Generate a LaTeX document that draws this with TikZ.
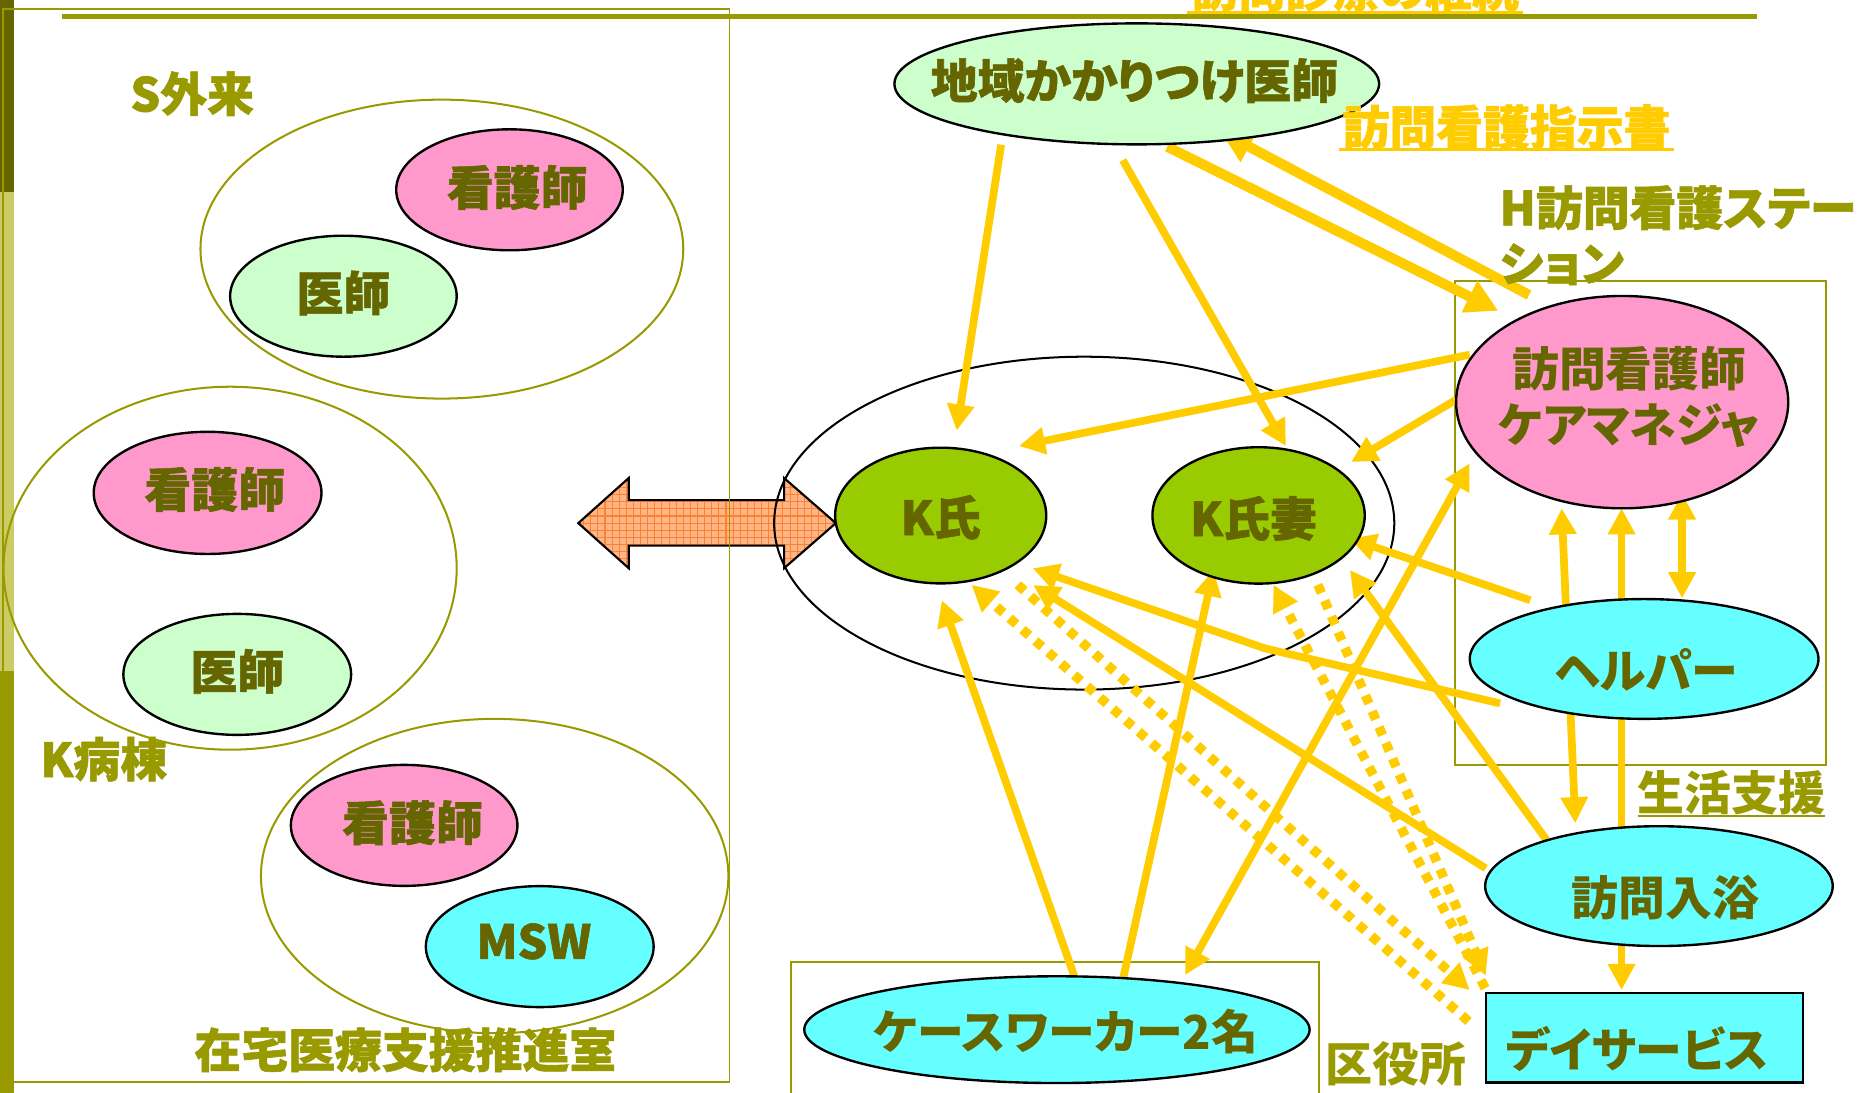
\documentclass[tikz,border=0pt]{standalone}
\usepackage{fontspec}
\setmainfont{Noto Sans CJK JP}[RawFeature=+palt]
\newfontfamily\jpx{Noto Sans CJK JP}[RawFeature=+palt,BoldFeatures={FakeBold=1.2}]
\usetikzlibrary{shapes.geometric,arrows.meta,patterns}
\pgfdeclarelayer{bg}
\pgfsetlayers{bg,main}
\definecolor{cLab}{HTML}{999900}
\definecolor{cNode}{HTML}{666600}
\definecolor{cYel}{HTML}{FFCC00}
\definecolor{cPink}{HTML}{FF99CC}
\definecolor{cLGreen}{HTML}{CCFFCC}
\definecolor{cCyan}{HTML}{66FFFF}
\definecolor{cKGreen}{HTML}{99CC00}
\definecolor{cDark}{HTML}{666600}
\definecolor{cLight}{HTML}{CCCC66}
\definecolor{cOrFill}{HTML}{FFB585}
\definecolor{cOrGrid}{HTML}{FF8030}
\pgfdeclarepatternformonly{ogrid}{\pgfqpoint{-1pt}{-1pt}}{\pgfqpoint{7pt}{7pt}}{\pgfqpoint{6pt}{6pt}}{%
  \pgfsetlinewidth{0.9pt}%
  \pgfpathmoveto{\pgfqpoint{0pt}{0pt}}\pgfpathlineto{\pgfqpoint{6pt}{0pt}}%
  \pgfpathmoveto{\pgfqpoint{0pt}{0pt}}\pgfpathlineto{\pgfqpoint{0pt}{6pt}}%
  \pgfusepath{stroke}}
\newcommand\fH{\jpx\bfseries\fontsize{39.5}{47}\selectfont}
\newcommand\fM{\bfseries\fontsize{39.5}{47}\selectfont}
\begin{document}
\begin{tikzpicture}[x=1pt,y=1pt,
  nd/.style={ellipse, draw=black, line width=2pt, inner sep=0pt, outer sep=0pt},
  grp/.style={ellipse, draw=cLab, line width=1.7pt, inner sep=0pt, outer sep=0pt},
  ntH/.style={text=cNode, font=\fH, inner sep=0pt},
  ntM/.style={text=cNode, font=\fM, inner sep=0pt},
  labH/.style={text=cLab, font=\fH, inner sep=0pt},
  labM/.style={text=cLab, font=\fM, inner sep=0pt},
  ya/.style={draw=cYel, line width=6.5pt, -{Triangle[length=22pt,width=22pt]}},
  yab/.style={draw=cYel, line width=6.5pt, {Triangle[length=22pt,width=22pt]}-{Triangle[length=22pt,width=22pt]}},
  yt/.style={draw=cYel, line width=8.5pt, -{Triangle[length=27pt,width=28pt]}},
  yd/.style={draw=cYel, line width=8pt, dash pattern=on 7.5pt off 7pt, -{Triangle[length=22pt,width=22pt]}}
]
\useasboundingbox (0,0) rectangle (1568,-921);

\begin{pgfonlayer}{bg}
\fill[white] (0,0) rectangle (1568,-921);
% left decorative strip
\fill[cDark] (0,0) rectangle (11.8,-161.6);
\fill[cLight] (0,-161.6) rectangle (11.8,-566);
\fill[cLab] (0,-566) rectangle (11.8,-921);
% top rule
\draw[cLab, line width=3.8pt] (52.6,-13.8) -- (1481,-13.8);
% double arrow
\path[fill=cOrFill] (487.5,-441) -- (530,-403) -- (530,-421.6) -- (661,-421.6) -- (661,-403) -- (704.6,-441) -- (661,-479) -- (661,-460) -- (530,-460) -- (530,-479) -- cycle;
\path[pattern=ogrid, pattern color=cOrGrid] (487.5,-441) -- (530,-403) -- (530,-421.6) -- (661,-421.6) -- (661,-403) -- (704.6,-441) -- (661,-479) -- (661,-460) -- (530,-460) -- (530,-479) -- cycle;
\draw[black, line width=1.8pt, line join=miter] (487.5,-441) -- (530,-403) -- (530,-421.6) -- (661,-421.6) -- (661,-403) -- (704.6,-441) -- (661,-479) -- (661,-460) -- (530,-460) -- (530,-479) -- cycle;
% boxes
\draw[cLab, line width=1.6pt] (2.5,-7.6) rectangle (615,-912.5);
\draw[cLab, line width=1.6pt] (1226.6,-236.9) rectangle (1539.4,-645);
\draw[cLab, line width=1.6pt] (666.5,-930) -- (666.5,-811) -- (1112,-811) -- (1112,-930);
% group ellipses
\node[grp, minimum width=407, minimum height=252] (sgrp) at (372.5,-210) {};
\node[grp, minimum width=382, minimum height=306] (kgrp) at (194,-479) {};
\node[grp, minimum width=394, minimum height=265] (zgrp) at (417,-738.5) {};
\node[ellipse, draw=black, line width=1.7pt, inner sep=0pt, outer sep=0pt, minimum width=522.8, minimum height=280.6] (kfam) at (914,-441) {};
\end{pgfonlayer}

% title (cut at top)
\node[text=cYel, font=\fH, inner sep=0pt] (title) at (1142.5,9.4) {訪問診療の継続};
\draw[cYel, line width=2.4pt] (1001,-10.8) -- (1284,-10.8);

% left side
\node[labH] (slab) at (162,-79) {S外来};
\node[nd, fill=cPink, minimum width=191, minimum height=102, label={[ntH, xshift=6.5, yshift=2]center:看護師}] (sn) at (429.5,-160) {};
\node[nd, fill=cLGreen, minimum width=191, minimum height=102, label={[ntH, yshift=2.7]center:医師}] (sd) at (289.5,-249.7) {};
\node[nd, fill=cPink, minimum width=192, minimum height=103, label={[ntH, xshift=6, yshift=2.9]center:看護師}] (kn) at (175,-415.5) {};
\node[nd, fill=cLGreen, minimum width=192, minimum height=102, label={[ntH, yshift=2.5]center:医師}] (kd) at (200,-568.5) {};
\node[labH] (klab) at (87.5,-640) {K病棟};
\node[nd, fill=cPink, minimum width=191, minimum height=102, label={[ntH, xshift=7, yshift=2.2]center:看護師}] (zn) at (340.7,-695.8) {};
\node[nd, fill=cCyan, minimum width=192, minimum height=102, label={[ntH, xshift=-5, yshift=4.4]center:MSW}] (msw) at (455,-798) {};
\node[labH] (zlab) at (341.7,-885) {在宅医療支援推進室};

% right side nodes
\node[nd, fill=cLGreen, minimum width=408.6, minimum height=102, label={[ntH, xshift=-2, yshift=2.7]center:地域かかりつけ医師}] (doc) at (958.3,-70.7) {};
\node[nd, fill=cKGreen, minimum width=178, minimum height=114.4, label={[ntH, yshift=-1.4]center:K氏}] (kshi) at (793,-434.6) {};
\node[nd, fill=cKGreen, minimum width=179, minimum height=115, label={[ntH, xshift=-4.3, yshift=-2.5]center:K氏妻}] (tsuma) at (1061,-434.5) {};
\node[nd, fill=cPink, minimum width=280, minimum height=179, label={[ntM, align=center, xshift=6, yshift=4]center:訪問看護師\\ケアマネジャ}] (hn) at (1367.5,-339) {};
\node[nd, fill=cCyan, minimum width=294, minimum height=101, label={[ntM, xshift=2, yshift=-9.5]center:ヘルパー}] (help) at (1386,-555.5) {};
\node[nd, fill=cCyan, minimum width=293, minimum height=101, label={[ntM, xshift=5.5, yshift=-10]center:訪問入浴}] (bath) at (1398.5,-747) {};
\node[rectangle, draw=black, line width=2pt, fill=cCyan, inner sep=0pt, outer sep=0pt, minimum width=267.5, minimum height=75.4, label={[ntM, xshift=-6, yshift=-10]center:デイサービス}] (day) at (1386.25,-874.7) {};
\node[nd, fill=cCyan, minimum width=426, minimum height=90, label={[ntM, xshift=7.5, yshift=-1.5]center:ケースワーカー2名}] (cw) at (891,-868) {};

% labels right
\node[text=cYel, font=\fH, inner sep=0pt] (shiji) at (1270,-107) {訪問看護指示書};
\draw[cYel, line width=2.4pt] (1129,-125.9) -- (1411,-125.9);
\node[labH, anchor=north west, align=left] (hst) at (1264,-156) {H訪問看護ステー\\ション};
\node[labM] (seikatsu) at (1459.5,-668) {生活支援};
\draw[cLab, line width=2.2pt] (1380.5,-688) -- (1538.5,-688);
\node[labM] (kuyaku) at (1176.6,-897) {区役所};

\begin{pgfonlayer}{bg}
\draw[ya] ([shift={(-114.3,-51.3)}]doc.center) -- ([shift={(13.5,71.6)}]kshi.center);
\draw[ya] ([shift={(-11.8,-64.3)}]doc.center) -- ([shift={(23,58.5)}]tsuma.center);
\draw[yt] ([shift={(25.7,-53)}]doc.center) -- ([shift={(-104.5,77)}]hn.center);
\draw[yt] ([shift={(-78.5,90.3)}]hn.center) -- ([shift={(70.7,-40.3)}]doc.center);
\draw[ya] ([shift={(-128.5,40)}]hn.center) -- ([shift={(66,58.6)}]kshi.center);
\draw[ya] ([shift={(-140,2)}]hn.center) -- ([shift={(78,45)}]tsuma.center);
\draw[yab] ([shift={(-51,-89.5)}]hn.center) -- ([shift={(-70.5,53)}]bath.center);
\draw[yab] ([shift={(-0.5,-89.5)}]hn.center) -- ([shift={(-19.25,40.1)}]day.center);
\draw[yab] ([shift={(50.5,-77)}]hn.center) -- ([shift={(32,51.1)}]help.center);
\draw[ya] ([shift={(-96,49.5)}]help.center) -- ([shift={(77,-19.5)}]tsuma.center);
\draw[ya] ([shift={(-121.4,-37.5)}]help.center) -- ([shift={(5.4,-112.1)}]tsuma.center) -- ([shift={(77.6,-44.5)}]kshi.center);
\draw[ya] ([shift={(-146,15)}]bath.center) -- ([shift={(78,-58.6)}]kshi.center);
\draw[ya] ([shift={(-94.8,39)}]bath.center) -- ([shift={(77,-46)}]tsuma.center);
\draw[ya] ([shift={(15,44)}]cw.center) -- ([shift={(1,-71.4)}]kshi.center);
\draw[ya] ([shift={(56,44)}]cw.center) -- ([shift={(-38,-46)}]tsuma.center);
\draw[yab] ([shift={(-128.5,-51.6)}]hn.center) -- ([shift={(108,46)}]cw.center);
\draw[yd] ([shift={(-148.25,13.7)}]day.center) -- ([shift={(26,-58.4)}]kshi.center);
\draw[yd] ([shift={(65,-58.4)}]kshi.center) -- ([shift={(-147.25,40.1)}]day.center);
\draw[yd] ([shift={(-134.25,41.7)}]day.center) -- ([shift={(12.5,-58.5)}]tsuma.center);
\draw[yd] ([shift={(50,-58.5)}]tsuma.center) -- ([shift={(-133.75,52.2)}]day.center);
\end{pgfonlayer}
\end{tikzpicture}
\end{document}
